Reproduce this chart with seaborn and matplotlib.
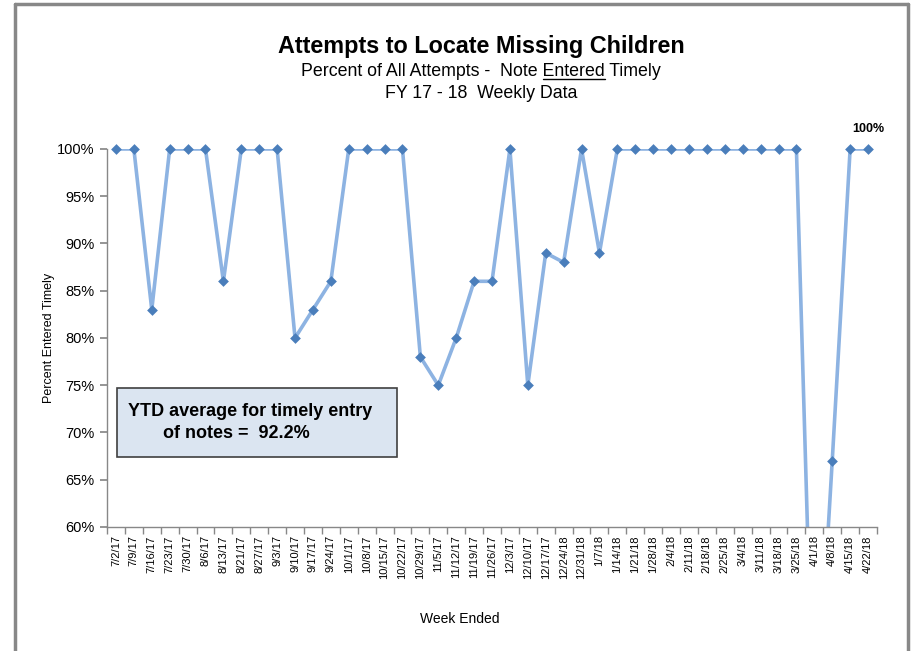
import seaborn as sns
import matplotlib.pyplot as plt
import matplotlib.lines as mlines
import matplotlib.patches as mpatches
import pandas as pd
import numpy as np

# Weekly data
weeks = ['7/2/17', '7/9/17', '7/16/17', '7/23/17', '7/30/17', '8/6/17', '8/13/17',
         '8/21/17', '8/27/17', '9/3/17', '9/10/17', '9/17/17', '9/24/17', '10/1/17',
         '10/8/17', '10/15/17', '10/22/17', '10/29/17', '11/5/17', '11/12/17',
         '11/19/17', '11/26/17', '12/3/17', '12/10/17', '12/17/17', '12/24/18',
         '12/31/18', '1/7/18', '1/14/18', '1/21/18', '1/28/18', '2/4/18', '2/11/18',
         '2/18/18', '2/25/18', '3/4/18', '3/11/18', '3/18/18', '3/25/18', '4/1/18',
         '4/8/18', '4/15/18', '4/22/18']
pct = [100, 100, 83, 100, 100, 100, 86, 100, 100, 100, 80, 83, 86, 100, 100, 100,
       100, 78, 75, 80, 86, 86, 100, 75, 89, 88, 100, 89, 100, 100, 100, 100, 100,
       100, 100, 100, 100, 100, 100, 35, 67, 100, 100]
ytd_avg = 92.2

data = pd.DataFrame({'Week': weeks, 'Pct': pct, 'idx': np.arange(len(weeks))})

sns.set_theme(style="white")
plt.rcParams['font.family'] = ['Liberation Sans', 'DejaVu Sans']
plt.rcParams['text.color'] = 'black'
plt.rcParams['axes.labelcolor'] = 'black'
plt.rcParams['xtick.color'] = 'black'
plt.rcParams['ytick.color'] = 'black'

fig = plt.figure(figsize=(9.12, 6.51), dpi=100)
ax = fig.add_axes([107 / 912, 1 - 527 / 651, 770 / 912, 378 / 651])

line_col = '#8db3e2'
mark_col = '#4a7ebb'

sns.lineplot(x='idx', y='Pct', data=data, ax=ax, color=line_col, linewidth=2.6)
shown = data[data['Pct'] >= 60]
ax.scatter(shown['idx'], shown['Pct'], marker='D', s=30, color=mark_col,
           zorder=3, clip_on=False, linewidths=0)

ax.set_xlim(-0.5, len(weeks) - 0.5)
ax.set_ylim(60, 100)
ax.set_yticks(np.arange(60, 101, 5))
ax.set_yticklabels([f'{v}%' for v in range(60, 101, 5)], fontsize=10.5)
ax.set_xticks(np.arange(len(weeks)))
ax.set_xticklabels(weeks, rotation=90, fontsize=8)
ax.set_xticks(np.arange(len(weeks) + 1) - 0.5, minor=True)
ax.tick_params(axis='x', which='major', length=0, pad=6, bottom=True)
ax.tick_params(axis='x', which='minor', length=5, color='#888888', direction='out', bottom=True)
ax.tick_params(axis='y', length=5, color='#888888', direction='out', pad=4, left=True)

for s in ['top', 'right']:
    ax.spines[s].set_visible(False)
for s in ['left', 'bottom']:
    ax.spines[s].set_color('#888888')
    ax.spines[s].set_linewidth(1)

ax.set_xlabel('Week Ended', fontsize=10)
ax.xaxis.set_label_coords(0.458, -0.225)
ax.set_ylabel('Percent Entered Timely', fontsize=9)
ax.yaxis.set_label_coords(-0.067, 0.5)

# label on last point
ax.annotate(f'{pct[-1]}%', xy=(len(weeks) - 1, pct[-1]), xytext=(0, 10),
            textcoords='offset points', ha='center', va='bottom',
            fontsize=9, fontweight='bold')

# titles
fig.text(481 / 912, 1 - 47 / 651, 'Attempts to Locate Missing Children',
         ha='center', va='center', fontsize=16.8, fontweight='bold')
sub_pre = 'Percent of All Attempts -  Note '
sub_mid = 'Entered'
sub_full = sub_pre + sub_mid + ' Timely'
sub_fs = 12.8
t_sub = fig.text(481 / 912, 1 - 72 / 651, sub_full, ha='center', va='center', fontsize=sub_fs)
fig.text(481 / 912, 1 - 93 / 651, 'FY 17 - 18  Weekly Data',
         ha='center', va='center', fontsize=sub_fs)

# underline "Entered"
fig.canvas.draw()
r = fig.canvas.get_renderer()
full_bb = t_sub.get_window_extent(r)
tmp1 = fig.text(0, 0, sub_pre, fontsize=sub_fs)
tmp2 = fig.text(0, 0, sub_pre + sub_mid, fontsize=sub_fs)
w1 = tmp1.get_window_extent(r).width
w2 = tmp2.get_window_extent(r).width
tmp1.remove()
tmp2.remove()
W, H = fig.bbox.width, fig.bbox.height
x0 = (full_bb.x0 + w1) / W
x1 = (full_bb.x0 + w2) / W
yu = (full_bb.y0 + 2) / H
fig.add_artist(mlines.Line2D([x0, x1], [yu, yu], color='black', linewidth=1))

# YTD box
box = mpatches.Rectangle((117 / 912, 1 - 457 / 651), 280 / 912, 69 / 651,
                         transform=fig.transFigure, facecolor='#dbe5f1',
                         edgecolor='#404040', linewidth=1.2, zorder=5)
fig.add_artist(box)
fig.text(128 / 912, 1 - 411 / 651, 'YTD average for timely entry',
         ha='left', va='center', fontsize=13, fontweight='bold', zorder=6)
fig.text(163 / 912, 1 - 434 / 651, f'of notes =  {ytd_avg}%',
         ha='left', va='center', fontsize=13, fontweight='bold', zorder=6)

# outer frame (left, top, right)
frame_col = '#888888'
fig.add_artist(mlines.Line2D([15 / 912, 15 / 912], [0, 1 - 4 / 651], color=frame_col, linewidth=2.5))
fig.add_artist(mlines.Line2D([15 / 912, 908 / 912], [1 - 4 / 651, 1 - 4 / 651], color=frame_col, linewidth=2.5))
fig.add_artist(mlines.Line2D([908 / 912, 908 / 912], [0, 1 - 4 / 651], color=frame_col, linewidth=2.5))

fig.savefig('out.png', dpi=100)
